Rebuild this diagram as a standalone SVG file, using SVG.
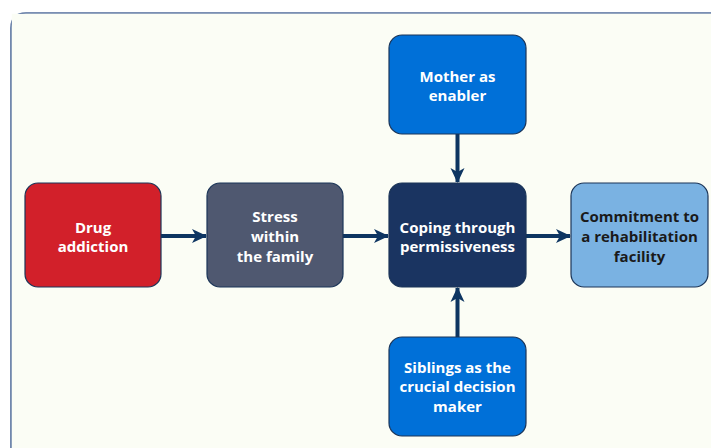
<svg xmlns="http://www.w3.org/2000/svg" width="711" height="448" viewBox="0 0 711 448">
<style>
.box{stroke:#1b3558;stroke-width:1.2}
.t{font-family:"Open Sans","Liberation Sans",sans-serif;font-weight:bold;font-size:15px;text-anchor:middle;fill:#ffffff}
.td{fill:#1a1a1a}
.c{stroke:#0d3561;stroke-width:4;fill:none}
</style>
<defs>
<marker id="ah" markerUnits="userSpaceOnUse" markerWidth="16" markerHeight="16" refX="14" refY="8" orient="auto" viewBox="0 0 16 16">
<path d="M0,1 L15,8 L0,15 L4,8 Z" fill="#0d3561"/>
</marker>
</defs>
<rect x="0" y="0" width="711" height="448" fill="#ffffff"/>
<path d="M11,448 L11,28 Q11,13 26,13 L711,13" fill="#fbfdf5" stroke="#4f6a9a" stroke-width="1.6"/>
<rect x="11.8" y="13.8" width="700" height="440" fill="#fbfdf5"/>
<g id="connectors">
<line class="c" x1="161" y1="236" x2="206" y2="236" marker-end="url(#ah)"/>
<line class="c" x1="343" y1="236" x2="388" y2="236" marker-end="url(#ah)"/>
<line class="c" x1="526" y1="236" x2="570" y2="236" marker-end="url(#ah)"/>
<line class="c" x1="457.5" y1="134" x2="457.5" y2="182" marker-end="url(#ah)"/>
<line class="c" x1="457.5" y1="337" x2="457.5" y2="288" marker-end="url(#ah)"/>
</g>
<g id="drug">
<rect class="box" x="25" y="183" width="136" height="104" rx="13" fill="#d2202a"/>
<text class="t" x="93" y="233">Drug</text>
<text class="t" x="93" y="252">addiction</text>
</g>
<g id="stress">
<rect class="box" x="207" y="183" width="136" height="104" rx="13" fill="#4f5870"/>
<text class="t" x="275" y="222">Stress</text>
<text class="t" x="275" y="242">within</text>
<text class="t" x="275" y="262">the family</text>
</g>
<g id="coping">
<rect class="box" x="389" y="183" width="137" height="104" rx="13" fill="#1a3461"/>
<text class="t" x="457.5" y="233">Coping through</text>
<text class="t" x="457.5" y="252">permissiveness</text>
</g>
<g id="commitment">
<rect class="box" x="571" y="183" width="137" height="104" rx="13" fill="#7ab2e2"/>
<text class="t td" x="639.5" y="222">Commitment to</text>
<text class="t td" x="639.5" y="242">a rehabilitation</text>
<text class="t td" x="639.5" y="262">facility</text>
</g>
<g id="mother">
<rect class="box" x="389" y="35" width="137" height="99" rx="13" fill="#0070d8"/>
<text class="t" x="457.5" y="82">Mother as</text>
<text class="t" x="457.5" y="101">enabler</text>
</g>
<g id="siblings">
<rect class="box" x="389" y="337" width="137" height="99" rx="13" fill="#0070d8"/>
<text class="t" x="457.5" y="373">Siblings as the</text>
<text class="t" x="457.5" y="392">crucial decision</text>
<text class="t" x="457.5" y="412">maker</text>
</g>
</svg>
